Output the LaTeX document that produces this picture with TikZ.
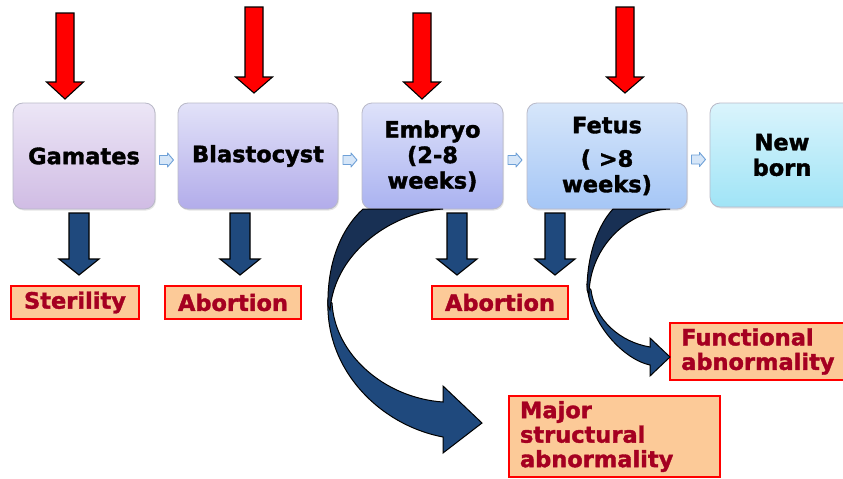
\documentclass[tikz,border=0pt]{standalone}
\usepackage{fontspec}
\setmainfont{DejaVu Sans}
\newfontfamily\heavyfont{DejaVu Sans Bold}[FakeBold=1.6]
\usetikzlibrary{shadings,shadows,calc}
\definecolor{navy}{RGB}{31,73,125}
\definecolor{navydark}{RGB}{24,48,84}
\definecolor{peach}{RGB}{252,202,152}
\definecolor{darkred}{RGB}{165,0,33}
\definecolor{chevfill}{RGB}{214,230,248}
\definecolor{chevline}{RGB}{110,160,215}
\definecolor{boxline}{RGB}{185,185,200}
\newcommand\blkarrow[7]{\draw[#1] (#2-#6,#3) -- (#2+#6,#3) -- (#2+#6,#4) -- (#2+#7,#4) -- (#2,#5) -- (#2-#7,#4) -- (#2-#6,#4) -- cycle;}
\tikzset{
  stagebox/.style={draw=boxline, line width=0.8pt, rounded corners=10pt, minimum height=106pt,
    align=center, inner sep=0pt, font=\fontsize{22.5}{25.5}\heavyfont\selectfont,
    drop shadow={opacity=0.2, shadow xshift=1pt, shadow yshift=-1.5pt}},
  outcome/.style={draw=red, line width=2.4pt, fill=peach, text=darkred, inner sep=0pt,
    font=\fontsize{22.5}{24.5}\heavyfont\selectfont},
  redarrow/.style={fill=red, draw=black, line width=1.1pt, line join=miter},
  bluearrow/.style={fill=navy, draw=black, line width=1.1pt, line join=miter},
  chevron/.style={fill=chevfill, draw=chevline, line width=0.9pt, line join=round},
  curvearrow/.style={fill=navy, draw=black, line width=1pt},
  curveback/.style={fill=navydark, draw=black, line width=1pt}
}
\begin{document}
\begin{tikzpicture}[x=1pt,y=-1pt]
\useasboundingbox (0,0) rectangle (843,479);
\clip (0,0) rectangle (843,479);
\fill[white] (0,0) rectangle (843,479);

% stage boxes
\node[stagebox, minimum width=142pt, top color={rgb,255:red,236;green,230;blue,246}, bottom color={rgb,255:red,208;green,188;blue,228}] (gam) at (84,156) {Gamates};
\node[stagebox, minimum width=160pt, top color={rgb,255:red,226;green,226;blue,248}, bottom color={rgb,255:red,178;green,172;blue,234}] (bla) at (258,156) {Blastocyst};
\node[stagebox, minimum width=141pt, top color={rgb,255:red,222;green,226;blue,250}, bottom color={rgb,255:red,170;green,178;blue,240}] (emb) at (432.5,156) {Embryo\\(2-8\\weeks)};
\node[stagebox, minimum width=160pt, top color={rgb,255:red,214;green,230;blue,250}, bottom color={rgb,255:red,165;green,198;blue,246}] (fet) at (607,156) {Fetus\\[8pt]( >8\\weeks)};
\node[stagebox, minimum width=144pt, minimum height=104pt, top color={rgb,255:red,218;green,244;blue,252}, bottom color={rgb,255:red,160;green,228;blue,246}] (nbo) at (782,155) {New\\born};

% small chevrons between stages
\foreach \a/\b in {gam/bla,bla/emb,emb/fet,fet/nbo}{
  \coordinate (c) at ($(\a.east)!0.5!(\b.west)+(0,4)$);
  \draw[chevron] ($(c)+(-7,-4.5)$) -- ($(c)+(1,-4.5)$) -- ($(c)+(1,-7)$) -- ($(c)+(7,0)$) -- ($(c)+(1,7)$) -- ($(c)+(1,4.5)$) -- ($(c)+(-7,4.5)$) -- cycle;
}

% red arrows from top
\blkarrow{redarrow}{65}{13}{82}{99}{9}{18.5}
\blkarrow{redarrow}{254}{7}{77}{93}{9}{18.5}
\blkarrow{redarrow}{422}{13}{82}{99}{9}{18.5}
\blkarrow{redarrow}{625}{7}{77}{93}{9}{18.5}

% blue down arrows
\blkarrow{bluearrow}{79}{213}{259}{275}{10}{20}
\blkarrow{bluearrow}{240}{213}{259}{275}{10}{20}
\blkarrow{bluearrow}{457}{213}{259}{275}{10}{20}
\blkarrow{bluearrow}{555}{213}{259}{275}{10}{20}

% outcome boxes
\node[outcome, minimum width=128pt, minimum height=33pt] (ste) at (75,302.5) {Sterility};
\node[outcome, minimum width=136pt, minimum height=33pt] (ab1) at (233,302.5) {Abortion};
\node[outcome, minimum width=136pt, minimum height=33pt] (ab2) at (500,302.5) {Abortion};
\node[outcome, anchor=west, minimum height=57pt, inner xsep=11pt, text width=165pt, align=left] (fun) at (669,351.5) {Functional\\abnormality};
\node[outcome, minimum width=211pt, minimum height=81pt, inner xsep=11pt, text width=189pt, align=left] (maj) at (614.5,436.5) {Major\\structural\\abnormality};

% curved arrow: embryo -> major structural abnormality
\draw[curvearrow] (328,300) .. controls (325,370) and (380,425) .. (443,437)
  -- (443,453) -- (482,423) -- (443,386) -- (443,402)
  .. controls (385,398) and (335,355) .. (332,303) -- cycle;
\draw[curveback] (363,209) .. controls (340,230) and (327,265) .. (328,306)
  -- (330,310) .. controls (335,250) and (395,212) .. (443,209) -- cycle;

% curved arrow: fetus -> functional abnormality
\draw[curvearrow] (587,285) .. controls (590,325) and (625,360) .. (650,365)
  -- (650,376) -- (670,357) -- (650,338) -- (650,347)
  .. controls (620,342) and (595,320) .. (591,290) -- cycle;
\draw[curveback] (613,209) .. controls (598,225) and (587,255) .. (587,290)
  -- (589,294) .. controls (590,245) and (630,210) .. (670,209) -- cycle;
\end{tikzpicture}
\end{document}
